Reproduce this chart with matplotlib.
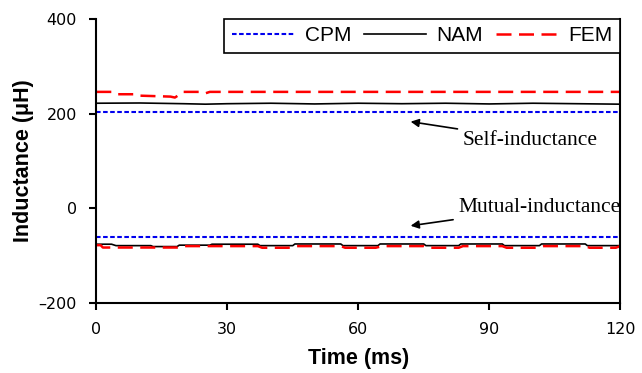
import matplotlib
matplotlib.use("Agg")
import matplotlib.pyplot as plt

# --- data ---
# CPM (constant)
cpm_t = [0, 120]
cpm_self = [204, 204]
cpm_mutual = [-61, -61]

# NAM
nam_self_t = [0, 10, 20, 25, 30, 40, 50, 60, 70, 80, 90, 100, 110, 120]
nam_self = [222, 222.5, 221, 220, 221, 222, 220.5, 222, 221, 222, 220.5, 222, 221, 220]
nam_mut_t = [0, 3.5, 4.5, 12.5, 13, 18.5, 19, 26, 26.5, 37, 37.5, 45, 45.5, 56, 56.5,
             64.5, 65, 75, 75.5, 83, 83.5, 93, 93.5, 101.5, 102, 112, 112.5, 120]
nam_mutual = [-76, -76, -79, -79, -81, -81, -78, -78, -76, -76, -79, -79, -75.5, -75.5, -79,
              -79, -75.5, -75.5, -79, -79, -75.5, -75.5, -79, -79, -75.5, -75.5, -79, -79]

# FEM
fem_self_t = [0, 4, 5, 9, 10, 17, 18, 20, 24, 25, 26, 120]
fem_self = [246, 246, 241, 241, 238, 236, 234, 246, 246, 243, 246, 246]
fem_mut_t = [0, 1, 1.5, 18.5, 20, 37, 38, 44, 45.5, 56, 57, 64, 65.5, 75, 76, 83, 84,
             93, 94, 101, 102.5, 112, 113, 119, 120]
fem_mutual = [-78, -78, -83, -83, -80, -80, -83.5, -83.5, -80, -80, -83.5, -83.5, -80, -80,
              -83.5, -83.5, -80, -80, -83.5, -83.5, -80, -80, -83.5, -83.5, -80]

x_ticks = [0, 30, 60, 90, 120]
y_ticks = [-200, 0, 200, 400]


def main():
    fig = plt.figure(figsize=(6.42, 3.73), dpi=100)
    ax = fig.add_axes([0.150, 0.188, 0.816, 0.761])

    ax.plot(cpm_t, cpm_self, color="#0000ee", ls=(0, (2.2, 1.2)), lw=1.5, label="CPM")
    ax.plot(nam_self_t, nam_self, color="black", lw=1.2, label="NAM")
    ax.plot(fem_self_t, fem_self, color="#ff0000", ls=(0, (6, 3)), lw=1.8, label="FEM")
    ax.plot(cpm_t, cpm_mutual, color="#0000ee", ls=(0, (2.2, 1.2)), lw=1.5)
    ax.plot(nam_mut_t, nam_mutual, color="black", lw=1.2)
    ax.plot(fem_mut_t, fem_mutual, color="#ff0000", ls=(0, (6, 3)), lw=1.8)

    ax.set_xlim(0, 120)
    ax.set_ylim(-200, 400)
    ax.set_xticks(x_ticks)
    ax.set_yticks(y_ticks)
    ax.set_yticklabels([str(v).replace("-", "\u2013") for v in y_ticks])
    ax.tick_params(direction="out", length=5, width=1.5, labelsize=11.5, pad=9)
    for lab in ax.get_xticklabels() + ax.get_yticklabels():
        lab.set_family("DejaVu Sans")

    ax.spines["top"].set_visible(False)
    for s in ["left", "bottom", "right"]:
        ax.spines[s].set_linewidth(1.5)

    ax.set_xlabel("Time (ms)", fontsize=15.5, fontweight="bold", family="Liberation Sans", labelpad=8)
    ax.set_ylabel("Inductance (\u03bcH)", fontsize=15.5, fontweight="bold", family="Liberation Sans", labelpad=3)

    leg = ax.legend(loc="upper right", ncol=3, bbox_to_anchor=(1.0, 1.0), frameon=True, fancybox=False,
                    edgecolor="black", framealpha=1, handlelength=3.0, columnspacing=0.6,
                    handletextpad=0.5, borderaxespad=0, borderpad=0.35,
                    prop={"family": "Liberation Sans", "size": 15})
    leg.get_frame().set_linewidth(1.2)

    ax.annotate("Self-inductance", xy=(72, 183), xytext=(84, 144), fontsize=15.5,
                family="Liberation Serif", va="center", ha="left",
                arrowprops=dict(arrowstyle="-|>", color="black", lw=1.2, shrinkA=2, shrinkB=0,
                                mutation_scale=12))
    ax.annotate("Mutual-inductance", xy=(72, -37), xytext=(83, 2), fontsize=15.5,
                family="Liberation Serif", va="center", ha="left",
                arrowprops=dict(arrowstyle="-|>", color="black", lw=1.2, shrinkA=2, shrinkB=0,
                                mutation_scale=12))

    fig.savefig("out.png", dpi=100)


if __name__ == "__main__":
    main()
